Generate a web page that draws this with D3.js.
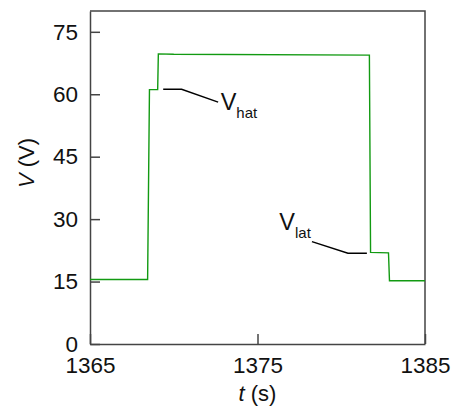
<!DOCTYPE html>
<html>
<head>
<meta charset="utf-8">
<script src="https://cdn.jsdelivr.net/npm/d3@7"></script>
<style>
  body { margin: 0; background: #fff; }
  svg { font-family: "Liberation Sans", Arial, sans-serif; }
</style>
</head>
<body>
<svg id="chart" width="453" height="408"></svg>
<script>
// voltage trace
var times = [1365, 1368.44, 1368.55, 1369.04, 1369.08, 1370.0, 1381.68, 1381.75, 1382.82, 1382.88, 1385];
var volts = [15.5, 15.5, 61.1, 61.1, 69.7, 69.6, 69.4, 22.0, 21.9, 15.2, 15.2];
var xTicks = [1365, 1375, 1385];
var yTicks = [0, 15, 30, 45, 60, 75];

var svg = d3.select("#chart");
var margin = { top: 11, right: 28, bottom: 64, left: 90 };
var width = 453 - margin.left - margin.right;
var height = 408 - margin.top - margin.bottom;

var g = svg.append("g")
  .attr("transform", "translate(" + margin.left + "," + margin.top + ")");

var x = d3.scaleLinear().domain([1365, 1385]).range([0, width]);
var y = d3.scaleLinear().domain([0, 80]).range([height, 0]);

var data = times.map(function (t, i) { return { t: t, v: volts[i] }; });

g.append("g")
  .attr("transform", "translate(0," + height + ")")
  .call(d3.axisBottom(x).tickValues(xTicks).tickSizeInner(-10).tickSizeOuter(0).tickPadding(13).tickFormat(d3.format("d")));

g.append("g")
  .call(d3.axisLeft(y).tickValues(yTicks).tickSizeInner(-10).tickSizeOuter(0).tickPadding(12));

g.selectAll(".domain, .tick line").attr("stroke", "#444").attr("stroke-width", 1.5);
g.selectAll(".tick text").attr("fill", "#111").style("font-size", "22.5px").style("font-family", "Liberation Sans, Arial, sans-serif");

// top and right frame
g.append("path")
  .attr("d", "M0,0H" + width + "V" + height)
  .attr("fill", "none").attr("stroke", "#444").attr("stroke-width", 1.5);

var line = d3.line().x(function (d) { return x(d.t); }).y(function (d) { return y(d.v); });

g.append("path")
  .datum(data)
  .attr("fill", "none")
  .attr("stroke", "#129a12")
  .attr("stroke-width", 1.4)
  .attr("d", line);

// annotation leaders
g.append("path")
  .attr("d", line([{ t: 1369.37, v: 61.2 }, { t: 1370.47, v: 61.2 }, { t: 1372.65, v: 58.1 }]))
  .attr("fill", "none").attr("stroke", "#000").attr("stroke-width", 1.5);

g.append("path")
  .attr("d", line([{ t: 1378.25, v: 24.6 }, { t: 1380.4, v: 21.8 }, { t: 1381.53, v: 21.8 }]))
  .attr("fill", "none").attr("stroke", "#000").attr("stroke-width", 1.5);

var hat = g.append("text")
  .attr("x", x(1372.8)).attr("y", y(56.2))
  .style("font-size", "23.5px").attr("fill", "#111");
hat.append("tspan").text("V");
hat.append("tspan").attr("dy", 8).style("font-size", "15px").text("hat");

var lat = g.append("text")
  .attr("x", x(1376.3)).attr("y", y(27.5))
  .style("font-size", "23.5px").attr("fill", "#111");
lat.append("tspan").text("V");
lat.append("tspan").attr("dy", 8).style("font-size", "15px").text("lat");

// axis titles
var xt = svg.append("text")
  .attr("x", margin.left + width / 2).attr("y", 401)
  .attr("text-anchor", "middle").style("font-size", "22px").attr("fill", "#111");
xt.append("tspan").style("font-style", "italic").text("t");
xt.append("tspan").text(" (s)");

var yt = svg.append("text")
  .attr("transform", "translate(34," + 163 + ") rotate(-90)")
  .attr("text-anchor", "middle").style("font-size", "22px").attr("fill", "#111");
yt.append("tspan").style("font-style", "italic").text("V");
yt.append("tspan").text(" (V)");
</script>
</body>
</html>
